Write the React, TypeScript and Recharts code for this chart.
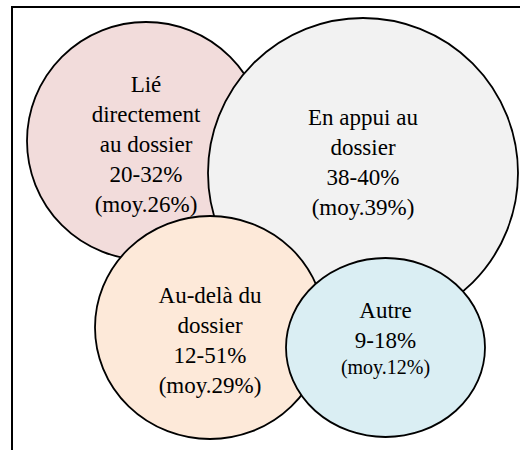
import React from 'react';
import { ScatterChart, Scatter, XAxis, YAxis } from 'recharts';

// chart text, one entry per bubble (drawing order: pink, grey, orange, blue)
const categoryLines = [
  ['Lié', 'directement', 'au dossier'],
  ['En appui au', 'dossier'],
  ['Au-delà du', 'dossier'],
  ['Autre'],
];
const rangeLow = [20, 38, 12, 9];
const rangeHigh = [32, 40, 51, 18];
const averages = [26, 39, 29, 12];

// bubble centres and half-widths / half-heights, in layout units (1 unit = 5px)
const centerX = [29.2, 72.6, 42, 77.1];
const centerY = [28.2, 34.6, 65.5, 69.5];
const radiusX = [23.8, 31, 23, 19.9];
const radiusY = [23.8, 31, 22.3, 17.9];

const WIDTH = 520;
const HEIGHT = 450;
const X_MAX = 104;
const Y_MAX = 90;
const UNIT = WIDTH / X_MAX;

const fills = ['#F2DCDB', '#F2F2F2', '#FDE9D9', '#DAEEF3'];
const labelTop = [-49, -48, -25, -30];
const smallAverage = [false, false, false, true];
const serif = '"Liberation Serif", "Times New Roman", Times, serif';

const bubbles = categoryLines.map((lines, i) => ({
  lines,
  range: `${rangeLow[i]}-${rangeHigh[i]}%`,
  average: averages[i],
  x: centerX[i],
  y: centerY[i],
  rx: radiusX[i],
  ry: radiusY[i],
  index: i,
}));

const renderBubble = (props: any) => {
  const { cx, cy, payload } = props;
  const i = payload.index;
  const lines = [...payload.lines, payload.range];
  const top = cy + labelTop[i];
  return (
    <g>
      <ellipse
        cx={cx}
        cy={cy}
        rx={payload.rx * UNIT}
        ry={payload.ry * UNIT}
        fill={fills[i]}
        stroke="#000"
        strokeWidth={1.8}
      />
      <text textAnchor="middle" fill="#000" style={{ fontFamily: serif, fontSize: 23 }}>
        {lines.map((line: string, k: number) => (
          <tspan key={k} x={cx} y={top + k * 30}>
            {line}
          </tspan>
        ))}
        <tspan
          x={cx}
          y={top + lines.length * 30 - (smallAverage[i] ? 4 : 0)}
          style={{ fontSize: smallAverage[i] ? 20 : 23 }}
        >
          {`(moy.${payload.average}%)`}
        </tspan>
      </text>
    </g>
  );
};

export default function App() {
  return (
    <div
      style={{
        position: 'absolute',
        top: 0,
        left: 0,
        width: WIDTH,
        height: HEIGHT,
        overflow: 'hidden',
        background: '#fff',
      }}
    >
      <div
        style={{
          position: 'absolute',
          left: 11,
          top: 6,
          width: 700,
          height: 700,
          borderLeft: '2px solid #000',
          borderTop: '2px solid #000',
        }}
      />
      <div style={{ position: 'absolute', top: 0, left: 0 }}>
        <ScatterChart width={WIDTH} height={HEIGHT} margin={{ top: 0, right: 0, bottom: 0, left: 0 }}>
          <XAxis type="number" dataKey="x" domain={[0, X_MAX]} hide />
          <YAxis type="number" dataKey="y" domain={[0, Y_MAX]} reversed hide />
          <Scatter data={bubbles} shape={renderBubble} isAnimationActive={false} />
        </ScatterChart>
      </div>
    </div>
  );
}
